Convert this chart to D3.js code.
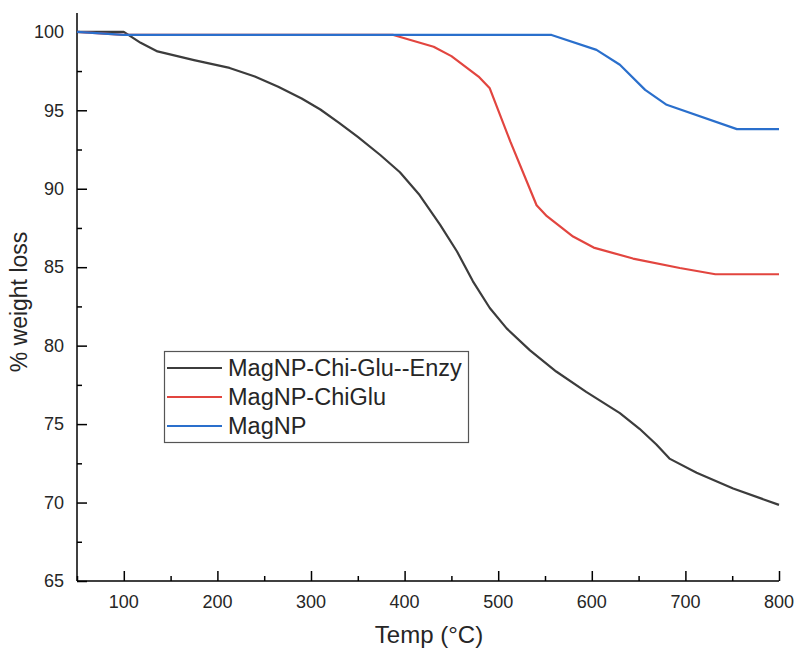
<!DOCTYPE html>
<html>
<head>
<meta charset="utf-8">
<script src="https://cdn.jsdelivr.net/npm/d3@7"></script>
<style>
  html, body { margin: 0; padding: 0; background: #fff; }
  svg { display: block; font-family: "Liberation Sans", Arial, sans-serif; }
</style>
</head>
<body>
<svg id="chart" width="797" height="650"></svg>
<script>
// TGA curves: temperature (°C) vs remaining weight (%)
const seriesNames = ["MagNP-Chi-Glu--Enzy", "MagNP-ChiGlu", "MagNP"];
const seriesColors = ["#3c3c3c", "#e2453f", "#2a6fcc"];

const enzyTemp = [50, 100, 118, 136, 175, 213, 240, 265, 290, 310, 330, 350, 374, 395, 416, 438, 456, 473, 491, 509, 534, 562, 594, 630, 651, 669, 683, 712, 751, 800];
const enzyWeight = [100, 100, 99.3, 98.75, 98.2, 97.7, 97.15, 96.5, 95.75, 95.05, 94.2, 93.3, 92.15, 91.05, 89.6, 87.7, 86.0, 84.1, 82.4, 81.1, 79.7, 78.35, 77.05, 75.7, 74.7, 73.7, 72.8, 71.9, 70.9, 69.85];

const chiGluTemp = [50, 100, 388, 431, 450, 479, 491, 513, 541, 552, 580, 602, 644, 694, 732, 800];
const chiGluWeight = [100, 99.8, 99.8, 99.05, 98.45, 97.15, 96.4, 93.0, 88.95, 88.25, 86.95, 86.25, 85.55, 84.95, 84.55, 84.55];

const magTemp = [50, 100, 557, 605, 630, 657, 680, 755, 800];
const magWeight = [100, 99.8, 99.8, 98.85, 97.9, 96.3, 95.35, 93.8, 93.8];

const xTicks = [100, 200, 300, 400, 500, 600, 700, 800];
const yTicks = [65, 70, 75, 80, 85, 90, 95, 100];

const W = 797, H = 650;
const margin = { left: 77, right: 18, top: 13, bottom: 69 };

const svg = d3.select("#chart");
const x = d3.scaleLinear().domain([50, 800]).range([margin.left, W - margin.right]);
const y = d3.scaleLinear().domain([65, 101.2]).range([H - margin.bottom, margin.top]);

const tickFont = "18px";
const textColor = "#262626";

// x axis: inward ticks, minor every 50
const xMinor = d3.range(50, 801, 50).filter(v => v % 100 !== 0);
const gx = svg.append("g").attr("transform", `translate(0,${y(65)})`);
gx.call(d3.axisTop(x).tickValues(xMinor).tickSize(5).tickFormat(""));
gx.append("g").call(d3.axisTop(x).tickValues(xTicks).tickSize(10).tickFormat(""));
gx.selectAll(".domain").remove();
gx.selectAll("line").attr("stroke", "#000").attr("stroke-width", 1.5);
gx.append("g").selectAll("text").data(xTicks).join("text")
  .attr("x", d => x(d)).attr("y", 27)
  .attr("text-anchor", "middle")
  .attr("font-size", tickFont).attr("fill", textColor)
  .text(d => d);

// y axis: inward ticks, minor every 2.5
const yMinor = d3.range(67.5, 101, 5);
const gy = svg.append("g").attr("transform", `translate(${x(50)},0)`);
gy.call(d3.axisRight(y).tickValues(yMinor).tickSize(5).tickFormat(""));
gy.append("g").call(d3.axisRight(y).tickValues(yTicks).tickSize(10).tickFormat(""));
gy.selectAll(".domain").remove();
gy.selectAll("line").attr("stroke", "#000").attr("stroke-width", 1.5);
gy.append("g").selectAll("text").data(yTicks).join("text")
  .attr("x", -13).attr("y", d => y(d)).attr("dy", "0.35em")
  .attr("text-anchor", "end")
  .attr("font-size", tickFont).attr("fill", textColor)
  .text(d => d);

// axis lines
svg.append("line")
  .attr("x1", x(50)).attr("x2", x(50))
  .attr("y1", y(101.2)).attr("y2", y(65))
  .attr("stroke", "#000").attr("stroke-width", 1.5);
svg.append("line")
  .attr("x1", x(50)).attr("x2", x(800))
  .attr("y1", y(65)).attr("y2", y(65))
  .attr("stroke", "#000").attr("stroke-width", 1.5);

// curves
const line = d3.line().x(d => x(d[0])).y(d => y(d[1]));
const curves = [
  d3.zip(enzyTemp, enzyWeight),
  d3.zip(chiGluTemp, chiGluWeight),
  d3.zip(magTemp, magWeight)
];
svg.append("g").selectAll("path").data(curves).join("path")
  .attr("d", line)
  .attr("fill", "none")
  .attr("stroke", (d, i) => seriesColors[i])
  .attr("stroke-width", 2.2)
  .attr("stroke-linejoin", "round");

// axis titles
svg.append("text")
  .attr("x", 429).attr("y", 643)
  .attr("text-anchor", "middle")
  .attr("font-size", "24px").attr("fill", textColor)
  .text("Temp (°C)");
svg.append("text")
  .attr("transform", `translate(27,302) rotate(-90)`)
  .attr("text-anchor", "middle")
  .attr("font-size", "23px").attr("fill", textColor)
  .text("% weight loss");

// legend
const lg = svg.append("g");
lg.append("rect")
  .attr("x", 164.5).attr("y", 351.5)
  .attr("width", 304).attr("height", 91)
  .attr("fill", "#fff").attr("stroke", "#555").attr("stroke-width", 1.2);
const rows = lg.selectAll("g.row").data(seriesNames).join("g")
  .attr("class", "row")
  .attr("transform", (d, i) => `translate(0,${368 + i * 29})`);
rows.append("line")
  .attr("x1", 167).attr("x2", 222)
  .attr("stroke", (d, i) => seriesColors[i]).attr("stroke-width", 2);
rows.append("text")
  .attr("x", 228).attr("dy", "0.35em")
  .attr("font-size", "23.5px").attr("fill", textColor)
  .text(d => d);
</script>
</body>
</html>
